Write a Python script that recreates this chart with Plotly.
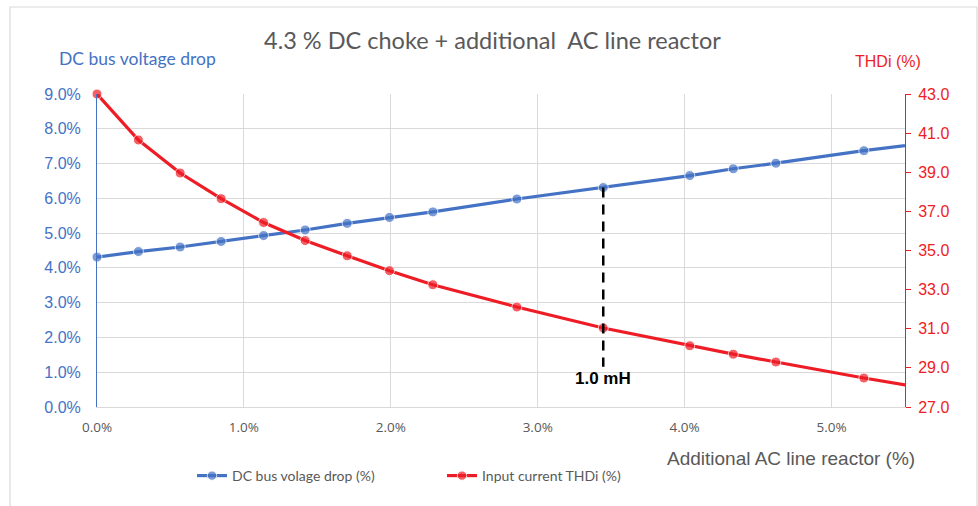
import plotly.graph_objects as go

# Additional AC line reactor (%) - x values
reactor_pct = [0.0, 0.282, 0.566, 0.845, 1.134, 1.417, 1.703, 1.991, 2.286, 2.858,
               3.446, 4.035, 4.331, 4.621, 5.22, 5.8]
# DC bus voltage drop (%)
dc_drop = [4.31, 4.47, 4.60, 4.76, 4.93, 5.09, 5.28, 5.45, 5.61, 5.98,
           6.31, 6.655, 6.85, 7.01, 7.37, 7.67]
# Input current THDi (%)
thdi = [43.0, 40.65, 38.96, 37.65, 36.43, 35.51, 34.73, 33.97, 33.25, 32.11,
        31.04, 30.13, 29.70, 29.30, 28.48, 27.76]
# the last point lies beyond the visible axis (line continues to the edge)
marker_sizes = [10] * (len(reactor_pct) - 1) + [0]

x_ticks = [0, 1, 2, 3, 4, 5]
left_ticks = [0, 1, 2, 3, 4, 5, 6, 7, 8, 9]
right_ticks = [27, 29, 31, 33, 35, 37, 39, 41, 43]

marker_x = 3.446
marker_label = "1.0 mH"

BLUE = "#4472C4"
RED = "#EE1C25"
GRAY = "#595959"
GRID = "#D9D9D9"

fig = go.Figure()
fig.add_trace(go.Scatter(
    x=reactor_pct, y=dc_drop, name="DC bus volage drop (%)",
    mode="lines+markers", line=dict(color=BLUE, width=3.2),
    marker=dict(color=BLUE, size=marker_sizes), cliponaxis=False, yaxis="y"))
fig.add_trace(go.Scatter(
    x=reactor_pct, y=thdi, name="Input current THDi (%)",
    mode="lines+markers", line=dict(color=RED, width=3.2),
    marker=dict(color=RED, size=marker_sizes), cliponaxis=False, yaxis="y2"))

L, R, T, B = 97, 73, 94, 99
H = 506
plot_h = H - T - B
W = 978
plot_w = W - L - R


def py(p):
    return (H - B - p) / plot_h


def px(p):
    return (p - L) / plot_w


fig.update_layout(
    width=W, height=H,
    margin=dict(l=L, r=R, t=T, b=B, autoexpand=False),
    paper_bgcolor="white", plot_bgcolor="white",
    showlegend=True,
    legend=dict(orientation="h", x=px(192), y=py(476), xanchor="left", yanchor="middle",
                font=dict(family="Lato", size=14, color=GRAY),
                entrywidth=205, entrywidthmode="pixels", bgcolor="rgba(0,0,0,0)"),
    xaxis=dict(range=[0, 5.5], tickvals=x_ticks, ticktext=[f"{v:.1f}%" for v in x_ticks],
               showgrid=True, gridcolor=GRID, gridwidth=1,
               showline=True, linecolor=GRID, linewidth=1, zeroline=False,
               tickfont=dict(family="Open Sans", size=13.5, color=GRAY), ticks="",
               ticklabelstandoff=8),
    yaxis=dict(range=[0, 9], tickvals=left_ticks, ticktext=[f"{v:.1f}%" for v in left_ticks],
               showgrid=True, gridcolor=GRID, gridwidth=1,
               showline=True, linecolor=BLUE, linewidth=1, zeroline=False,
               tickfont=dict(family="Liberation Sans", size=16, color=BLUE), ticks="",
               ticklabelstandoff=12),
    yaxis2=dict(range=[27, 43], tickvals=right_ticks, ticktext=[f"{v:.1f}" for v in right_ticks],
                overlaying="y", side="right", showgrid=False,
                showline=True, linecolor=RED, linewidth=1, zeroline=False,
                ticks="outside", ticklen=5, tickcolor=RED, ticklabelstandoff=4,
                tickfont=dict(family="Liberation Sans", size=16, color=RED)),
)

# chart border
fig.add_shape(type="rect", xref="paper", yref="paper",
              x0=px(10), x1=px(977), y0=py(515), y1=py(7),
              line=dict(color=GRID, width=1.2), fillcolor="rgba(0,0,0,0)", layer="below")

# dashed marker line
fig.add_shape(type="line", xref="x", yref="y",
              x0=marker_x, x1=marker_x, y0=dc_drop[10], y1=1.16,
              line=dict(color="black", width=2.5, dash="10px,7px"))

fig.add_annotation(x=marker_x, y=0.81, xref="x", yref="y", text=f"<b>{marker_label}</b>",
                   showarrow=False, font=dict(family="Liberation Sans", size=17, color="black"))

# title and axis titles
fig.add_annotation(x=px(492), y=py(40), xref="paper", yref="paper",
                   text="4.3 % DC choke + additional  AC line reactor", showarrow=False,
                   xanchor="center", yanchor="middle",
                   font=dict(family="Lato", size=23.5, color=GRAY))
fig.add_annotation(x=px(57), y=py(58), xref="paper", yref="paper",
                   text="DC bus voltage drop", showarrow=False, xanchor="left", yanchor="middle",
                   font=dict(family="Lato", size=17.5, color=BLUE))
fig.add_annotation(x=px(923), y=py(61), xref="paper", yref="paper",
                   text="THDi (%)", showarrow=False, xanchor="right", yanchor="middle",
                   font=dict(family="Liberation Sans", size=16, color=RED))
fig.add_annotation(x=px(917), y=py(458), xref="paper", yref="paper",
                   text="Additional AC line reactor (%)", showarrow=False, xanchor="right",
                   yanchor="middle",
                   font=dict(family="Liberation Sans", size=19, color=GRAY))

fig.write_html("out.html", config={"displayModeBar": False},
               post_script="document.body.style.margin='0px';")
